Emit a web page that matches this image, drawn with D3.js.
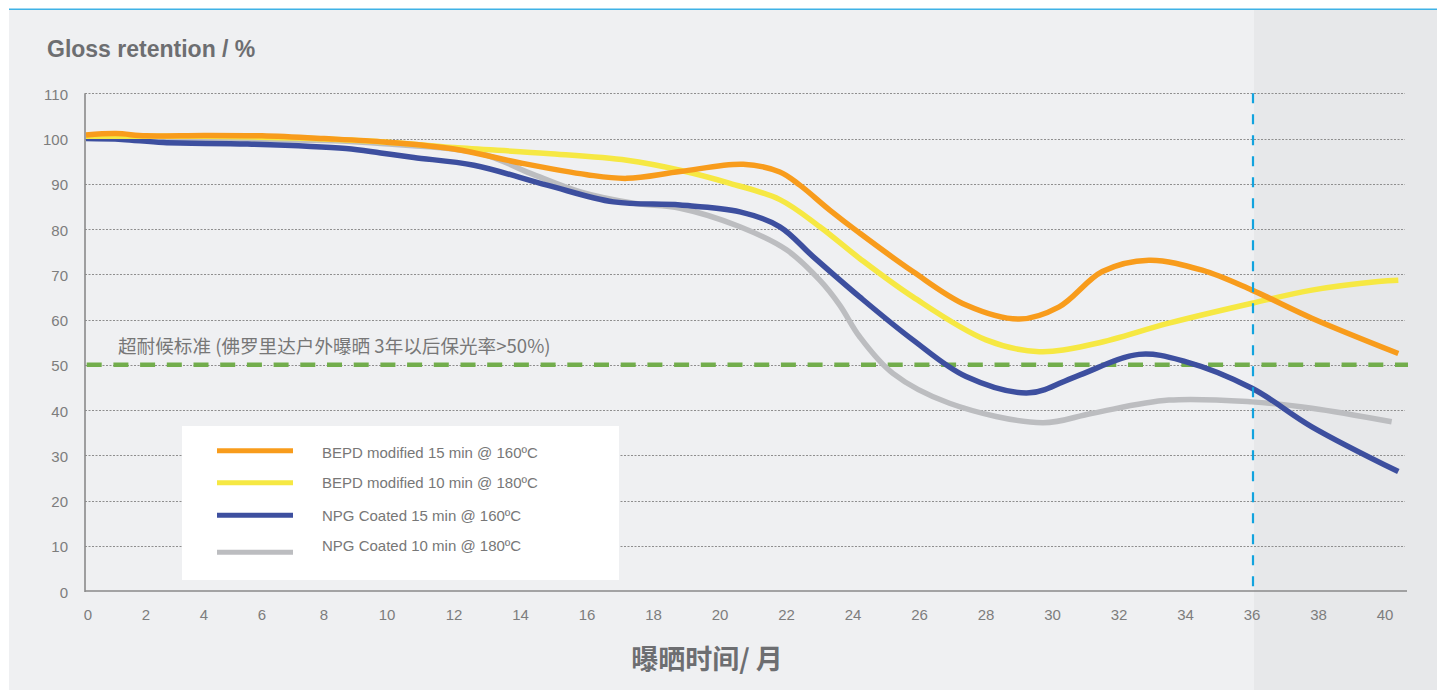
<!DOCTYPE html>
<html><head><meta charset="utf-8">
<script src="https://cdn.jsdelivr.net/npm/d3@7"></script>
<style>html,body{margin:0;padding:0;background:#fff;}svg{display:block;}</style>
</head><body>
<svg id="chart" width="1437" height="690"></svg>
<script>
// ---- data ----
const xTickLabels = [0,2,4,6,8,10,12,14,16,18,20,22,24,26,28,30,32,34,36,38,40];
const yTickLabels = [0,10,20,30,40,50,60,70,80,90,100,110];
const seriesNames = ["BEPD modified 15 min @ 160ºC","BEPD modified 10 min @ 180ºC","NPG Coated 15 min @ 160ºC","NPG Coated 10 min @ 180ºC"];
const seriesColors = ["#f89c1c","#f6e843","#3d4f9f","#bcbdc0"];

const bepd15Months = [0,1,2,4,6,8,10,12,14,16,17.2,18.8,20.7,21.8,22.4,23.3,24.2,25.8,27.4,29,30.2,31.5,32.9,34.5,36,37.8,40.4];
const bepd15Values = [100.8,101.1,100.6,100.7,100.6,100.0,99.2,97.7,94.6,92.0,91.2,92.7,94.3,92.6,89.7,84.2,79.1,70.6,63.2,60.1,62.8,70.6,73.1,70.9,66.5,60.3,52.5];

const bepd10Months = [0,2,4,6,8,10,12,14.8,17.2,18.8,20.3,21.8,23,24.2,25.8,28,29.6,31.3,33.5,36,37.8,39.8,40.4];
const bepd10Values = [100.5,100.5,100.5,100.3,99.9,99.2,98.0,96.7,95.2,93.0,90.1,86.5,80.5,73.5,65.0,55.5,52.9,54.7,59.2,63.6,66.5,68.4,68.7];

const npg15Months = [0,1.2,2.6,5.5,8.7,9.8,10.8,12.6,14.8,16.8,18.8,20.6,21.8,22.8,24.2,25.8,27.4,29.3,30.7,32.6,34,36,37.8,40.4];
const npg15Values = [100.0,99.8,99.1,98.8,97.8,96.8,95.8,94.1,89.7,86.0,85.3,83.8,80.5,73.9,65.0,55.5,47.4,43.8,47.4,52.3,50.7,44.8,36.3,26.4];

const npg10Months = [0,2,4,6,8.7,9.8,12.8,14.3,15.8,17.4,18.8,20.6,22,23,23.6,24.2,25.2,26.9,29.7,31.2,33.5,36,37.8,40.2];
const npg10Values = [100.3,100.1,99.9,99.8,99.4,98.9,96.7,92.3,88.2,85.7,84.6,80.5,75.4,68.7,63.2,56.2,48.1,41.5,37.2,39.3,42.2,41.8,40.4,37.4];

const standardValue = 50;
const standardLabel = "超耐候标准 (佛罗里达户外曝晒 3年以后保光率>50%)";
const markerMonth = 36;
const yTitle = "Gloss retention / %";
const xTitle = "曝晒时间/ 月";

// ---- layout ----
const svg = d3.select("#chart");
const x = d3.scaleLinear()
  .domain([0,2,4,6,8,10,12,40])
  .range([86,146,204,262,324,387,454,1385]);
const y = d3.scaleLinear().domain([0,110]).range([591,93.3]);
const plotLeft = 85, gridRight = 1405, axisRight = 1407;

// backgrounds
svg.append("rect").attr("x",0).attr("y",0).attr("width",1437).attr("height",690).attr("fill","#ffffff");
svg.append("rect").attr("x",9).attr("y",10).attr("width",1428).attr("height",680).attr("fill","#eff0f2");
svg.append("rect").attr("x",x(markerMonth)+2).attr("y",10).attr("width",1437-x(markerMonth)-2).attr("height",680).attr("fill","#e7e8ea");
svg.append("rect").attr("x",9).attr("y",8.5).attr("width",1428).attr("height",1.5).attr("fill","#3fb2e6");

// title
svg.append("text").attr("x",47).attr("y",57).text(yTitle)
  .attr("font-family","'Liberation Sans', Arial, sans-serif").attr("font-weight","bold")
  .attr("font-size",23).attr("fill","#6d6e71");

// gridlines
svg.append("g").selectAll("line").data(yTickLabels.filter(d=>d>0)).join("line")
  .attr("x1",plotLeft).attr("x2",gridRight)
  .attr("y1",d=>Math.round(y(d))+0.5).attr("y2",d=>Math.round(y(d))+0.5)
  .attr("stroke","#8e8e8e").attr("stroke-width",1).attr("stroke-dasharray","2,1.5");

// axes lines
svg.append("line").attr("x1",plotLeft).attr("x2",plotLeft).attr("y1",y(110)).attr("y2",y(0)+1)
  .attr("stroke","#8a8a8a").attr("stroke-width",1.6);
svg.append("line").attr("x1",plotLeft).attr("x2",axisRight).attr("y1",y(0)).attr("y2",y(0))
  .attr("stroke","#8a8a8a").attr("stroke-width",1.6);

// tick labels
const tickFont = "'Liberation Sans', Arial, sans-serif";
svg.append("g").selectAll("text").data(yTickLabels).join("text")
  .attr("x",68).attr("y",d=>y(d)+1).attr("text-anchor","end").attr("dominant-baseline","central")
  .attr("font-family",tickFont).attr("font-size",15).attr("fill","#7d7d7d").text(d=>d);
svg.append("g").selectAll("text").data(xTickLabels).join("text")
  .attr("x",d=>x(d)+(d===0?2:0)).attr("y",614.5).attr("text-anchor","middle").attr("dominant-baseline","central")
  .attr("font-family",tickFont).attr("font-size",15).attr("fill","#7d7d7d").text(d=>d);

// standard line
svg.append("line").attr("x1",plotLeft+1.7).attr("x2",1408).attr("y1",y(standardValue)).attr("y2",y(standardValue))
  .attr("stroke","#72ad4c").attr("stroke-width",4.5).attr("stroke-dasharray","15,11.7");
svg.append("text").attr("x",118).attr("y",344).attr("dominant-baseline","central")
  .attr("font-family","'Noto Sans CJK SC', sans-serif").attr("font-size",18.6).attr("fill","#777777")
  .text(standardLabel);

// series
const series = [
  {months: bepd15Months, values: bepd15Values},
  {months: bepd10Months, values: bepd10Values},
  {months: npg15Months, values: npg15Values},
  {months: npg10Months, values: npg10Values}
];
const line = d3.line().x(d=>x(d[0])).y(d=>y(d[1])).curve(d3.curveCatmullRom.alpha(0.5));
const drawOrder = [3,2,1,0];
svg.append("g").selectAll("path").data(drawOrder).join("path")
  .attr("d",i=>line(series[i].months.map((m,j)=>[m,series[i].values[j]])))
  .attr("fill","none").attr("stroke",i=>seriesColors[i]).attr("stroke-width",5.5)
  .attr("stroke-linecap","butt").attr("stroke-linejoin","round");

// 36-month marker
svg.append("line").attr("x1",x(markerMonth)+1).attr("x2",x(markerMonth)+1).attr("y1",y(110)).attr("y2",y(0))
  .attr("stroke","#12a3de").attr("stroke-width",2.2).attr("stroke-dasharray","10,11");

// legend
svg.append("rect").attr("x",182).attr("y",426).attr("width",437).attr("height",154).attr("fill","#ffffff");
const legLineY = [450.7,482.7,515.3,552.3];
const legTextY = [452.3,482.7,515,545.7];
const lg = svg.append("g");
seriesNames.forEach((name,i)=>{
  lg.append("line").attr("x1",217).attr("x2",293).attr("y1",legLineY[i]).attr("y2",legLineY[i])
    .attr("stroke",seriesColors[i]).attr("stroke-width",5);
  lg.append("text").attr("x",322).attr("y",legTextY[i]).attr("dominant-baseline","central")
    .attr("font-family",tickFont).attr("font-size",15).attr("fill","#777777").text(name);
});

// x title
svg.append("text").attr("x",707).attr("y",657).attr("text-anchor","middle").attr("dominant-baseline","central")
  .attr("font-family","'Noto Sans CJK SC', sans-serif").attr("font-weight","bold")
  .attr("font-size",27).attr("fill","#6d6e71").text(xTitle);
</script>
</body></html>
